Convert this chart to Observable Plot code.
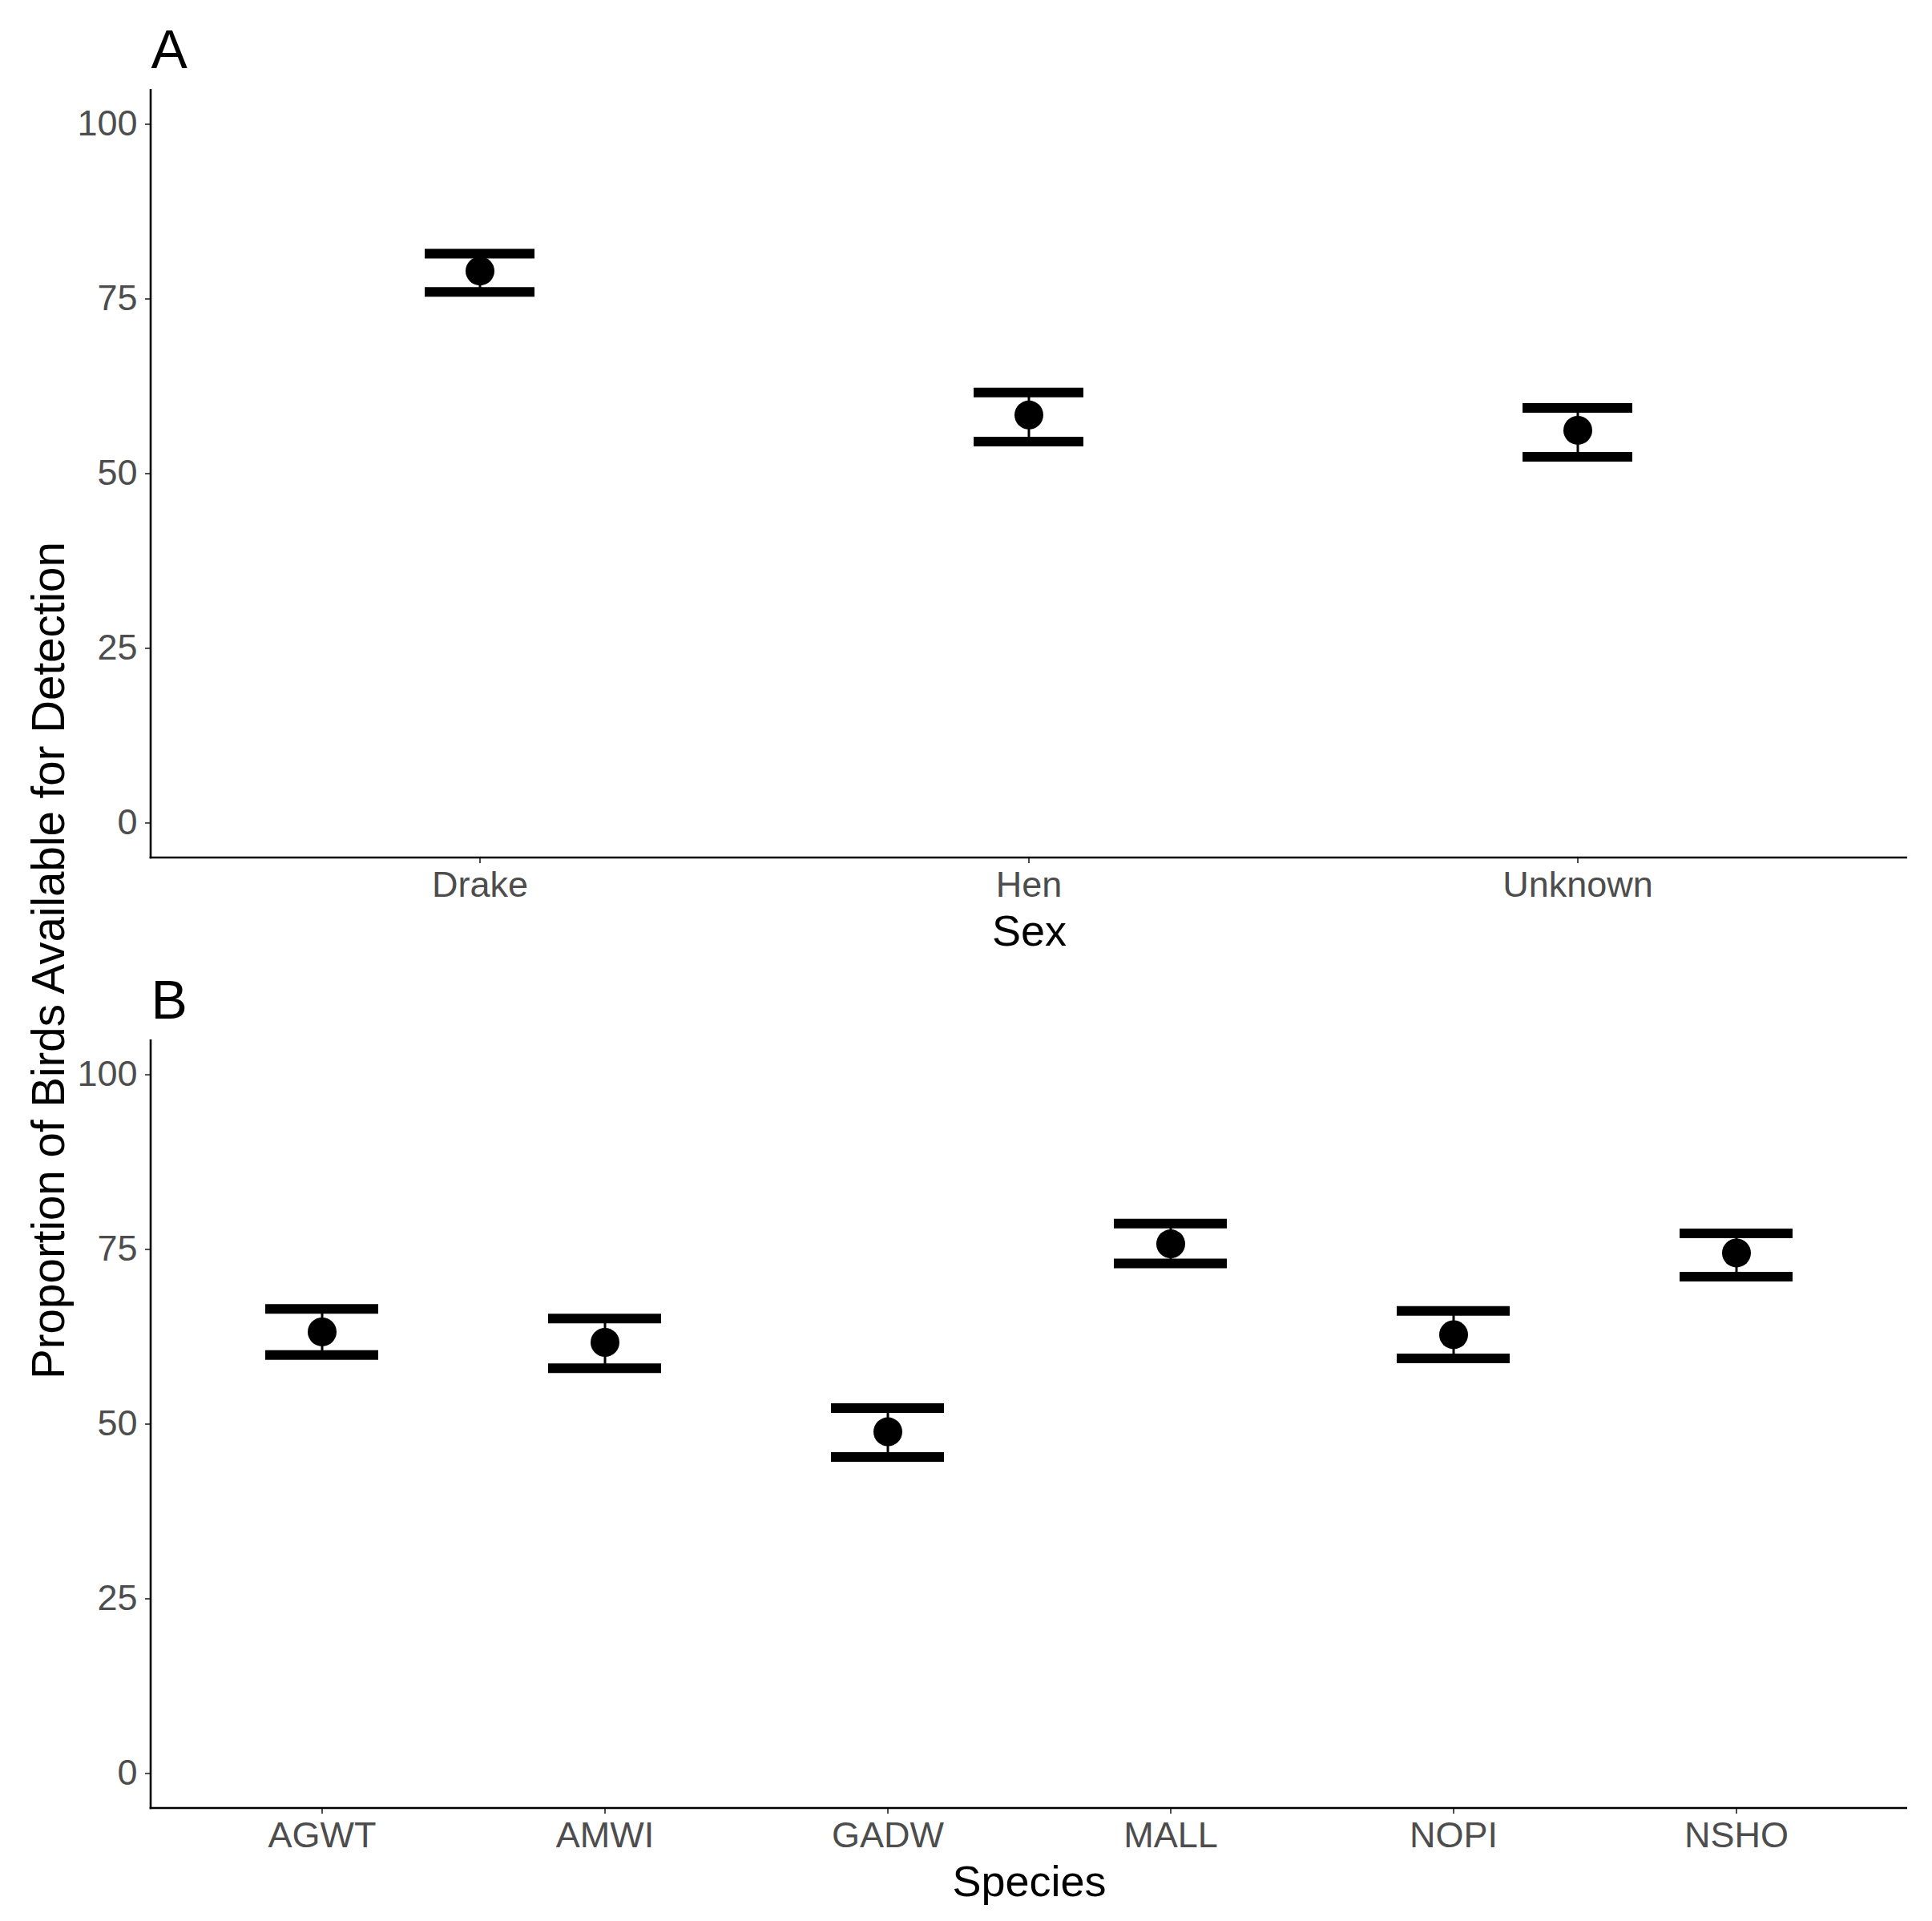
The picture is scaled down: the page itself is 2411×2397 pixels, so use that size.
<!DOCTYPE html>
<html>
<head>
<meta charset="utf-8">
<script src="https://cdn.jsdelivr.net/npm/d3@7"></script>
<script src="https://cdn.jsdelivr.net/npm/@observablehq/plot@0.6"></script>
<style>
  html, body { margin: 0; padding: 0; background: #fff; }
  #wrap { position: relative; width: 2411px; height: 2397px; background: #fff; font-family: "Liberation Sans", Arial, sans-serif; }
  #wrap svg { position: absolute; left: 0; }
</style>
</head>
<body>
<div id="wrap"></div>
<script>
// ---- Data ----
const sexCategories = ["Drake", "Hen", "Unknown"];
const sexEstimate = [79.0, 58.4, 56.2];
const sexLower = [76.0, 54.6, 52.4];
const sexUpper = [81.5, 61.6, 59.4];

const speciesCategories = ["AGWT", "AMWI", "GADW", "MALL", "NOPI", "NSHO"];
const speciesEstimate = [63.2, 61.7, 48.9, 75.8, 62.8, 74.5];
const speciesLower = [59.9, 58.0, 45.3, 73.0, 59.4, 71.1];
const speciesUpper = [66.5, 65.1, 52.3, 78.7, 66.2, 77.3];

const yTicks = [0, 25, 50, 75, 100];
const yDomain = [-5, 105];
const yTitle = "Proportion of Birds Available for Detection";

// ---- Styles ----
const FONT = "Liberation Sans, Arial, sans-serif";
const W = 2411, PANEL_H = 1186;
const M = {top: 111, right: 31, bottom: PANEL_H - 1070, left: 188};

function axisLines() {
  return (index, scales, values, dims) => {
    const g = d3.create("svg:g").attr("stroke", "#000").attr("stroke-width", 2.6).attr("fill", "none");
    const x0 = dims.marginLeft, x1 = dims.width - dims.marginRight;
    const y0 = dims.marginTop, y1 = dims.height - dims.marginBottom;
    g.append("line").attr("x1", x0).attr("x2", x0).attr("y1", y0).attr("y2", y1 + 1.3);
    g.append("line").attr("x1", x0 - 1.3).attr("x2", x1).attr("y1", y1).attr("y2", y1);
    return g.node();
  };
}

// capWidth: error-bar cap width as a fraction of the category step
function panel(tag, cats, est, lo, hi, xTitle, capWidth) {
  const rows = cats.map((c, i) => ({cat: c, est: est[i], lo: lo[i], hi: hi[i]}));
  return Plot.plot({
    width: W,
    height: PANEL_H,
    marginTop: M.top, marginRight: M.right, marginBottom: M.bottom, marginLeft: M.left,
    style: {fontFamily: FONT, background: "#fff", overflow: "visible"},
    x: {type: "band", domain: cats, paddingInner: 1 - capWidth, paddingOuter: 0.6 - capWidth / 2},
    y: {domain: yDomain},
    marks: [
      Plot.axisY({ticks: yTicks, tickSize: 7, tickPadding: 10, fontSize: 45, color: "#4D4D4D", strokeWidth: 2, label: null}),
      Plot.axisX({tickSize: 7, tickPadding: 10, fontSize: 45, color: "#4D4D4D", strokeWidth: 2, label: null}),
      axisLines(),
      Plot.tickY(rows, {x: "cat", y: "hi", stroke: "#000", strokeWidth: 12}),
      Plot.tickY(rows, {x: "cat", y: "lo", stroke: "#000", strokeWidth: 12}),
      Plot.ruleX(rows, {x: "cat", y1: "lo", y2: "hi", stroke: "#000", strokeWidth: 3}),
      Plot.dot(rows, {x: "cat", y: "est", r: 18, fill: "#000", stroke: null}),
      Plot.text([tag], {frameAnchor: "top-left", text: d => d, dy: -27, lineAnchor: "bottom", textAnchor: "start", fontSize: 68, fill: "#000"}),
      Plot.text([xTitle], {frameAnchor: "bottom", text: d => d, dy: 109, lineAnchor: "bottom", fontSize: 54, fill: "#000"})
    ]
  });
}

const wrap = document.getElementById("wrap");
const a = panel("A", sexCategories, sexEstimate, sexLower, sexUpper, "Sex", 0.2);
a.style.top = "0px";
wrap.appendChild(a);
const b = panel("B", speciesCategories, speciesEstimate, speciesLower, speciesUpper, "Species", 0.4);
b.style.top = PANEL_H + "px";
wrap.appendChild(b);

// shared y-axis title
const ov = d3.create("svg").attr("width", W).attr("height", 2397)
  .style("top", "0px").style("pointer-events", "none");
ov.append("text")
  .attr("transform", "translate(80,1198.5) rotate(-90)")
  .attr("text-anchor", "middle")
  .attr("font-family", FONT)
  .attr("font-size", 56.5)
  .attr("fill", "#000")
  .text(yTitle);
wrap.appendChild(ov.node());
</script>
</body>
</html>
